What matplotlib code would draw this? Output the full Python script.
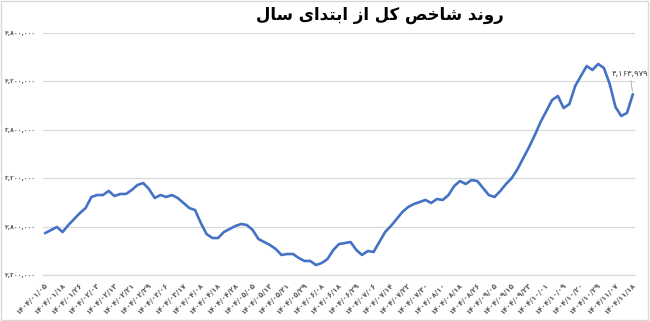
import matplotlib
matplotlib.use("Agg")
import matplotlib.pyplot as plt
from matplotlib.patches import Rectangle
from matplotlib.ticker import FuncFormatter

# Index values, one point every ~2 trading days
values = [
    2734000, 2765000, 2796000, 2744000, 2816000, 2878000, 2940000, 2992000, 3106000, 3126000,
    3126000, 3168000, 3116000, 3137000, 3137000, 3178000, 3230000, 3250000, 3188000, 3095000,
    3126000, 3106000, 3126000, 3095000, 3044000, 2992000, 2971000, 2837000, 2723000, 2682000,
    2682000, 2744000, 2775000, 2806000, 2827000, 2816000, 2765000, 2672000, 2641000, 2610000,
    2569000, 2507000, 2517000, 2517000, 2476000, 2445000, 2445000, 2403000, 2424000, 2465000,
    2558000, 2620000, 2630000, 2641000, 2558000, 2507000, 2548000, 2538000, 2641000, 2744000,
    2806000, 2878000, 2951000, 3002000, 3033000, 3054000, 3075000, 3044000, 3085000, 3075000,
    3126000, 3219000, 3271000, 3240000, 3281000, 3271000, 3199000, 3126000, 3106000, 3168000,
    3240000, 3302000, 3395000, 3509000, 3622000, 3746000, 3881000, 3994000, 4108000, 4149000,
    4025000, 4066000, 4252000, 4356000, 4459000, 4418000, 4480000, 4438000, 4273000, 4036000,
    3943000, 3974000, 4163979,
]

# Date labels shown on the x axis (every 3rd point)
date_labels = [
    "۱۴۰۴/۰۱/۰۵", "۱۴۰۴/۰۱/۱۸", "۱۴۰۴/۰۱/۲۶", "۱۴۰۴/۰۲/۰۳", "۱۴۰۴/۰۲/۱۳",
    "۱۴۰۴/۰۲/۲۱", "۱۴۰۴/۰۲/۲۹", "۱۴۰۴/۰۳/۰۶", "۱۴۰۴/۰۳/۱۷", "۱۴۰۴/۰۴/۰۸",
    "۱۴۰۴/۰۴/۱۸", "۱۴۰۴/۰۴/۲۸", "۱۴۰۴/۰۵/۰۵", "۱۴۰۴/۰۵/۱۳", "۱۴۰۴/۰۵/۲۱",
    "۱۴۰۴/۰۵/۲۹", "۱۴۰۴/۰۶/۰۸", "۱۴۰۴/۰۶/۱۸", "۱۴۰۴/۰۶/۲۹", "۱۴۰۴/۰۷/۰۶",
    "۱۴۰۴/۰۷/۱۴", "۱۴۰۴/۰۷/۲۲", "۱۴۰۴/۰۷/۳۰", "۱۴۰۴/۰۸/۱۰", "۱۴۰۴/۰۸/۱۸",
    "۱۴۰۴/۰۸/۲۶", "۱۴۰۴/۰۹/۰۵", "۱۴۰۴/۰۹/۱۵", "۱۴۰۴/۰۹/۲۳", "۱۴۰۴/۱۰/۰۱",
    "۱۴۰۴/۱۰/۰۹", "۱۴۰۴/۱۰/۲۰", "۱۴۰۴/۱۰/۲۹", "۱۴۰۴/۱۱/۰۷", "۱۴۰۴/۱۱/۱۸",
]
label_step = 3
y_ticks = [2300000, 2800000, 3300000, 3800000, 4300000, 4800000]
title = "روند شاخص کل از ابتدای سال"

FA_DIGITS = str.maketrans("0123456789", "۰۱۲۳۴۵۶۷۸۹")

# minimal Arabic-script shaping (isolated, final, initial, medial)
FORMS = {
    "ا": ("\uFE8D", "\uFE8E", None, None),
    "ب": ("\uFE8F", "\uFE90", "\uFE91", "\uFE92"),
    "ت": ("\uFE95", "\uFE96", "\uFE97", "\uFE98"),
    "خ": ("\uFEA5", "\uFEA6", "\uFEA7", "\uFEA8"),
    "د": ("\uFEA9", "\uFEAA", None, None),
    "ر": ("\uFEAD", "\uFEAE", None, None),
    "ز": ("\uFEAF", "\uFEB0", None, None),
    "س": ("\uFEB1", "\uFEB2", "\uFEB3", "\uFEB4"),
    "ش": ("\uFEB5", "\uFEB6", "\uFEB7", "\uFEB8"),
    "ص": ("\uFEB9", "\uFEBA", "\uFEBB", "\uFEBC"),
    "ک": ("\uFB8E", "\uFB8F", "\uFB90", "\uFB91"),
    "ل": ("\uFEDD", "\uFEDE", "\uFEDF", "\uFEE0"),
    "ن": ("\uFEE5", "\uFEE6", "\uFEE7", "\uFEE8"),
    "و": ("\uFEED", "\uFEEE", None, None),
    "ی": ("\uFBFC", "\uFBFD", "\uFBFE", "\uFBFF"),
}


def shape_rtl(text):
    out = []
    for i, c in enumerate(text):
        if c not in FORMS:
            out.append(c)
            continue
        prev = text[i - 1] if i > 0 else ""
        nxt = text[i + 1] if i + 1 < len(text) else ""
        before = prev in FORMS and FORMS[prev][2] is not None
        after = FORMS[c][2] is not None and nxt in FORMS
        if before and after:
            out.append(FORMS[c][3])
        elif before:
            out.append(FORMS[c][1])
        elif after:
            out.append(FORMS[c][2])
        else:
            out.append(FORMS[c][0])
    return "".join(out)[::-1]


def fa_num(v, pos=None):
    return f"{int(round(v)):,}".translate(FA_DIGITS)


plt.rcParams["font.family"] = ["DejaVu Sans"]

fig = plt.figure(figsize=(6.5, 3.21), dpi=100)
ax = fig.add_axes([0.0662, 0.1433, 0.9108, 0.7539])

x = list(range(len(values)))
ax.plot(x, values, color="#4472C4", lw=1.9, solid_joinstyle="round")

ax.set_ylim(2300000, 4800000)
ax.set_xlim(-0.4, len(values) - 1 + 0.4)
ax.set_yticks(y_ticks)
ax.yaxis.set_major_formatter(FuncFormatter(fa_num))
ax.grid(axis="y", color="#d9d9d9", lw=0.9)
ax.set_axisbelow(True)
for s in ["top", "right", "left"]:
    ax.spines[s].set_visible(False)
ax.spines["bottom"].set_color("#d9d9d9")
ax.spines["bottom"].set_linewidth(0.9)

ax.set_xticks(x[::label_step])
ax.set_xticklabels(date_labels, rotation=45, ha="right", va="top",
                   rotation_mode="anchor", fontsize=5.2, color="#595959",
                   fontweight="bold")
ax.tick_params(axis="x", length=0, pad=5)
ax.tick_params(axis="y", length=0, pad=5, labelsize=4.4, labelcolor="#595959")
for t in ax.get_yticklabels():
    t.set_fontweight("bold")

# last value callout
ax.annotate(fa_num(values[-1]), xy=(x[-1], values[-1]), xytext=(-2, 12),
            textcoords="offset points", ha="center", va="bottom",
            fontsize=6, color="#404040", annotation_clip=False,
            arrowprops=dict(arrowstyle="-", color="#a6a6a6", lw=0.6,
                            shrinkA=0, shrinkB=2))

fig.text(0.585, 0.953, shape_rtl(title), ha="center", va="center",
         fontsize=12, fontweight="bold", color="#000000")

fig.patches.append(Rectangle((0.002, 0.003), 0.995, 0.994, transform=fig.transFigure,
                             fill=False, edgecolor="#d9d9d9", lw=1))

fig.savefig("out.png", dpi=100)
